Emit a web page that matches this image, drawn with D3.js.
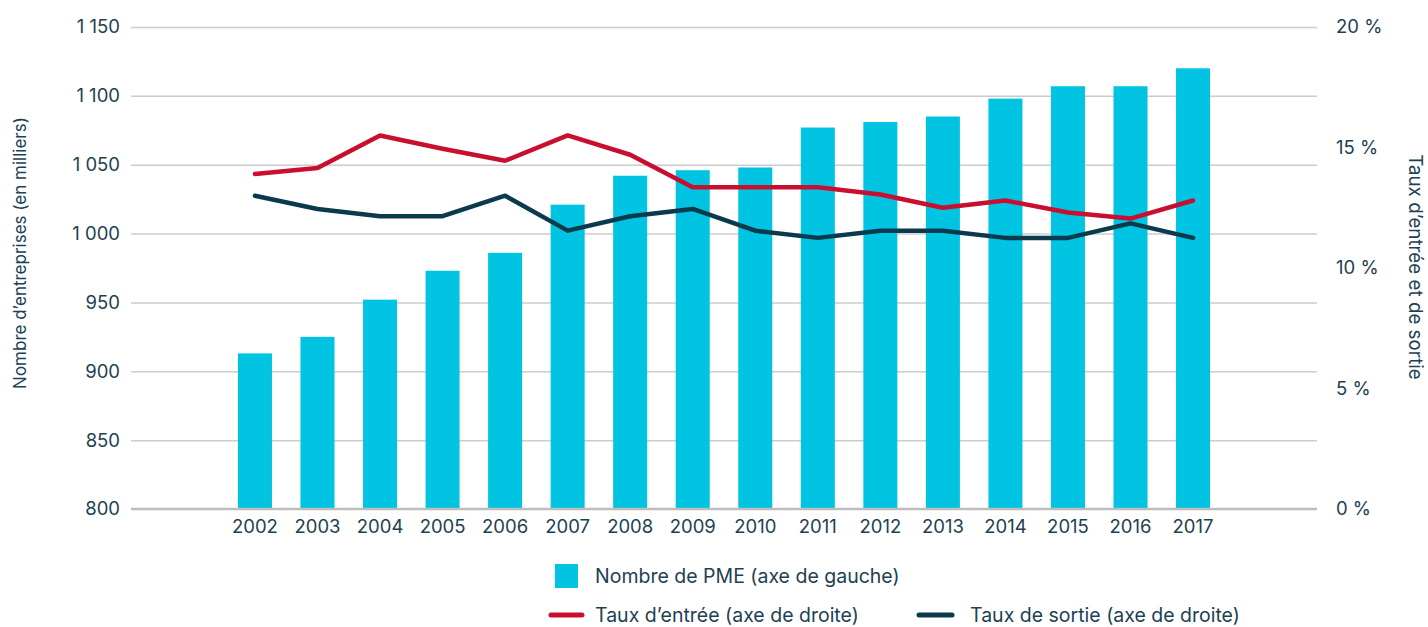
<!DOCTYPE html>
<html>
<head>
<meta charset="utf-8">
<script src="https://cdn.jsdelivr.net/npm/d3@7"></script>
<style>
  body { margin: 0; background: #fff; }
  svg text { font-family: Inter, "Noto Sans", sans-serif; fill: #1d4152; }
</style>
</head>
<body>
<svg id="chart" width="1428" height="627"></svg>
<script>
const years = ["2002","2003","2004","2005","2006","2007","2008","2009","2010","2011","2012","2013","2014","2015","2016","2017"];
const nombrePME = [913, 925, 952, 973, 986, 1021, 1042, 1046, 1048, 1077, 1081, 1085, 1098, 1107, 1107, 1120];
const tauxEntree = [13.9, 14.15, 15.5, 14.95, 14.45, 15.5, 14.7, 13.35, 13.35, 13.35, 13.05, 12.5, 12.8, 12.3, 12.05, 12.8];
const tauxSortie = [13.0, 12.45, 12.15, 12.15, 13.0, 11.55, 12.15, 12.45, 11.55, 11.25, 11.55, 11.55, 11.25, 11.25, 11.85, 11.25];
const leftTicks = [800, 850, 900, 950, 1000, 1050, 1100, 1150];
const leftTickLabels = ["800", "850", "900", "950", "1 000", "1 050", "1 100", "1 150"];
const rightTicks = [0, 5, 10, 15, 20];
const rightTickLabels = ["0 %", "5 %", "10 %", "15 %", "20 %"];
const leftTitle = "Nombre d’entreprises (en milliers)";
const rightTitle = "Taux d’entrée et de sortie";
const legendBar = "Nombre de PME (axe de gauche)";
const legendEntree = "Taux d’entrée (axe de droite)";
const legendSortie = "Taux de sortie (axe de droite)";

const cBar = "#00c4e1", cRed = "#c8102e", cDark = "#0b3a4c", cGrid = "#cccccc";
const svg = d3.select("#chart");

const x0 = 131, x1 = 1317, yTop = 27, yBot = 509;
const x = d3.scaleBand().domain(years).range([x0, x1]).paddingInner(0.456).paddingOuter(1.71);
const yL = d3.scaleLinear().domain([800, 1150]).range([yBot, yTop]);
const yR = d3.scaleLinear().domain([0, 20]).range([yBot, yTop]);

// gridlines (left axis)
const gridAxis = d3.axisLeft(yL).tickValues(leftTicks.slice(1)).tickSize(-(x1 - x0)).tickFormat("");
const gg = svg.append("g").attr("transform", `translate(${x0},0)`).call(gridAxis);
gg.select(".domain").remove();
gg.selectAll(".tick line").attr("stroke", cGrid).attr("stroke-width", 1.5);

// left tick labels
const leftAxis = d3.axisLeft(yL).tickValues(leftTicks).tickSize(0).tickPadding(11)
  .tickFormat((d, i) => leftTickLabels[i]);
const gl = svg.append("g").attr("transform", `translate(${x0},0)`).call(leftAxis);
gl.select(".domain").remove();
gl.selectAll("text").attr("font-size", 18.5).style("font-family", "Inter, sans-serif").attr("fill", "#1d4152");

// right tick labels
const rightAxis = d3.axisRight(yR).tickValues(rightTicks).tickSize(0).tickPadding(19)
  .tickFormat((d, i) => rightTickLabels[i]);
const gr = svg.append("g").attr("transform", `translate(${x1},0)`).call(rightAxis);
gr.select(".domain").remove();
gr.selectAll("text").attr("font-size", 18.5).style("font-family", "Inter, sans-serif").attr("fill", "#1d4152");

// bars
svg.append("g").selectAll("rect").data(nombrePME).join("rect")
  .attr("x", (d, i) => x(years[i]))
  .attr("width", x.bandwidth())
  .attr("y", d => yL(d))
  .attr("height", d => yBot - yL(d))
  .attr("fill", cBar);

// baseline
svg.append("line").attr("x1", x0).attr("x2", x1).attr("y1", yBot).attr("y2", yBot)
  .attr("stroke", "#bdbdbd").attr("stroke-width", 2.5);

// x axis labels
const xAxis = d3.axisBottom(x).tickSize(0).tickPadding(11);
const gx = svg.append("g").attr("transform", `translate(0,${yBot})`).call(xAxis);
gx.select(".domain").remove();
gx.selectAll("text").attr("font-size", 18.5).style("font-family", "Inter, sans-serif").attr("fill", "#1d4152");

// lines
const cx = i => x(years[i]) + x.bandwidth() / 2;
const line = d3.line().x((d, i) => cx(i)).y(d => yR(d));
svg.append("path").datum(tauxSortie).attr("d", line).attr("fill", "none")
  .attr("stroke", cDark).attr("stroke-width", 4.5).attr("stroke-linecap", "round").attr("stroke-linejoin", "round");
svg.append("path").datum(tauxEntree).attr("d", line).attr("fill", "none")
  .attr("stroke", cRed).attr("stroke-width", 4.5).attr("stroke-linecap", "round").attr("stroke-linejoin", "round");

// axis titles
svg.append("text").attr("transform", "translate(26,253) rotate(-90)")
  .attr("text-anchor", "middle").attr("font-size", 17).text(leftTitle);
svg.append("text").attr("transform", "translate(1409,267) rotate(90)")
  .attr("text-anchor", "middle").attr("font-size", 18.8).text(rightTitle);

// legend
const lg = svg.append("g");
lg.append("rect").attr("x", 555).attr("y", 564).attr("width", 23).attr("height", 24).attr("fill", cBar);
lg.append("text").attr("x", 595).attr("y", 583).attr("font-size", 19.5).text(legendBar);
lg.append("line").attr("x1", 551).attr("x2", 582).attr("y1", 615).attr("y2", 615)
  .attr("stroke", cRed).attr("stroke-width", 5).attr("stroke-linecap", "round");
lg.append("text").attr("x", 595).attr("y", 622).attr("font-size", 19.5).text(legendEntree);
lg.append("line").attr("x1", 919).attr("x2", 952).attr("y1", 615).attr("y2", 615)
  .attr("stroke", cDark).attr("stroke-width", 5).attr("stroke-linecap", "round");
lg.append("text").attr("x", 970).attr("y", 622).attr("font-size", 19.5).text(legendSortie);
</script>
</body>
</html>
